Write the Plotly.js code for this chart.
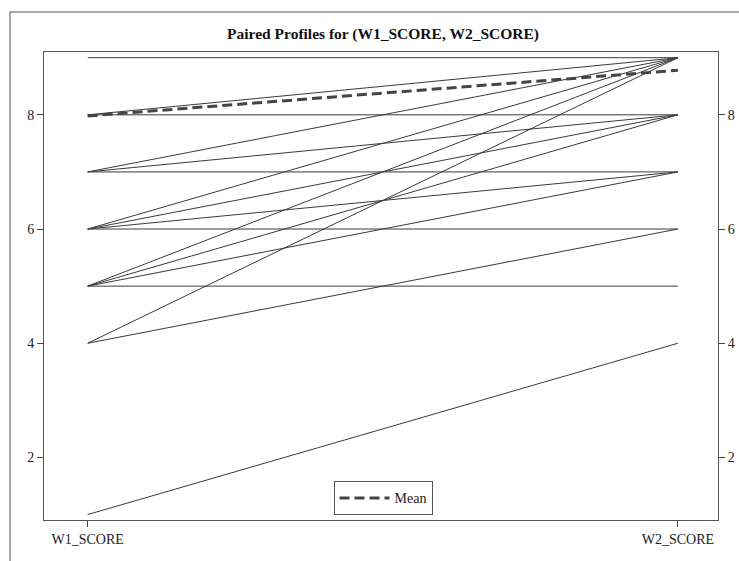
<!DOCTYPE html>
<html><head><meta charset="utf-8">
<script src="https://cdn.plot.ly/plotly-3.0.1.min.js"></script>
<style>html,body{margin:0;padding:0;background:#fff}#chart{width:739px;height:561px}</style>
</head><body><div id="chart"></div>
<script>
const categories = ['W1_SCORE', 'W2_SCORE'];
const w1Scores = [9, 8, 8, 7, 7, 7, 6, 6, 6, 6, 5, 5, 5, 5, 4, 4, 1];
const w2Scores = [9, 9, 8, 9, 8, 7, 9, 8, 7, 6, 9, 8, 7, 5, 9, 6, 4];
const meanScores = [7.98, 8.78];
const yTicks = [2, 4, 6, 8];
const titleText = 'Paired Profiles for (W1_SCORE, W2_SCORE)';

const serif = 'Liberation Serif, Times New Roman, serif';
const traces = [];
for (let i = 0; i < w1Scores.length; i++) {
  traces.push({
    x: categories, y: [w1Scores[i], w2Scores[i]],
    type: 'scatter', mode: 'lines', showlegend: false, hoverinfo: 'skip',
    line: {color: '#3a3a3a', width: 1}
  });
}
traces.push({
  x: categories, y: meanScores, type: 'scatter', mode: 'lines', name: 'Mean',
  line: {color: '#444444', width: 3, dash: '10px,5px'}
});
traces.push({
  x: categories, y: meanScores, type: 'scatter', mode: 'lines', yaxis: 'y2',
  showlegend: false, hoverinfo: 'skip', line: {width: 0}, opacity: 0
});

const yr = [0.905, 9.10];
const tf = {family: serif, size: 14, color: '#222'};
const layout = {
  width: 739, height: 561,
  margin: {l: 44, r: 21, t: 52, b: 41},
  paper_bgcolor: '#fff', plot_bgcolor: '#fff',
  title: {text: '<b>' + titleText + '</b>', font: {family: serif, size: 15.5, color: '#111'},
    x: 0.503, xref: 'paper', xanchor: 'center', y: 0.94, yanchor: 'middle'},
  xaxis: {type: 'category', range: [-0.074, 1.068], showgrid: false, zeroline: false,
    showline: true, linecolor: '#555', linewidth: 1, mirror: true,
    ticks: 'outside', ticklen: 6, tickcolor: '#444', tickfont: tf},
  yaxis: {range: yr, tickvals: yTicks, showgrid: false, zeroline: false,
    showline: true, linecolor: '#555', linewidth: 1,
    ticks: 'outside', ticklen: 6, tickcolor: '#444', tickfont: tf},
  yaxis2: {range: yr, tickvals: yTicks, overlaying: 'y', side: 'right', showgrid: false,
    zeroline: false, showline: true, linecolor: '#555', linewidth: 1,
    ticks: 'outside', ticklen: 6, tickcolor: '#444', tickfont: tf},
  showlegend: true,
  legend: {x: 0.503, xanchor: 'center', y: 0.01, yanchor: 'bottom',
    bordercolor: '#555', borderwidth: 1, bgcolor: '#fff', itemwidth: 50,
    tracegroupgap: 0, font: {family: serif, size: 14, color: '#222'}},
  shapes: [{type: 'rect', xref: 'paper', yref: 'paper',
    x0: -0.0504, x1: 1.2, y0: -0.3, y1: 1.0855,
    line: {color: '#555', width: 1}, fillcolor: 'rgba(0,0,0,0)', layer: 'below'}]
};
Plotly.newPlot('chart', traces, layout, {displayModeBar: false, staticPlot: true});
</script></body></html>
